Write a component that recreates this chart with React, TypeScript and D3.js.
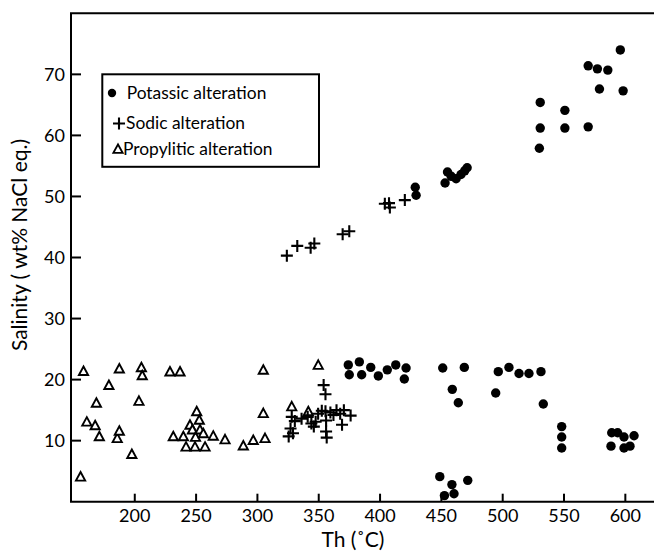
import React from "react";
import * as d3 from "d3";

const xTicks = [200, 250, 300, 350, 400, 450, 500, 550, 600];
const yTicks = [10, 20, 30, 40, 50, 60, 70];

const potassicTh = [
  428.7, 429.4, 453, 455, 458, 462, 466, 469, 471,
  530.6, 530.6, 529.9, 550.7, 550.7, 569.7, 569.7, 577.2, 585.7, 578.9, 595.9, 598.2,
  374.1, 374.9, 383.1, 385.0, 392.4, 398.6, 405.9, 412.8, 421.2, 419.8,
  451.1, 468.7, 458.9, 463.8,
  496.4, 505.1, 513.3, 521.4, 531.2, 494.3, 533.1,
  548.1, 548.1, 548.1,
  588.9, 593.7, 598.9, 607.1, 588.3, 598.9, 603.8,
  448.7, 458.6, 452.5, 460.3, 471.5,
];
const potassicSal = [
  51.5, 50.2, 52.2, 54.0, 53.3, 52.9, 53.6, 54.2, 54.7,
  65.4, 61.2, 57.9, 64.1, 61.2, 61.4, 71.4, 70.9, 70.7, 67.6, 74.0, 67.3,
  22.4, 20.8, 22.9, 20.8, 22.0, 20.6, 21.6, 22.4, 21.9, 20.1,
  21.9, 22.0, 18.4, 16.2,
  21.3, 22.0, 21.0, 21.0, 21.3, 17.8, 16.0,
  12.3, 10.6, 8.8,
  11.3, 11.3, 10.6, 10.8, 9.1, 8.8, 9.1,
  4.1, 2.8, 1.0, 1.3, 3.5,
];

const sodicTh = [
  324, 332.5, 343.4, 346.4, 369.5, 374.9, 403.9, 407.3, 408, 420.2,
  325.5, 327, 328, 329, 330.5, 336, 341, 344, 346, 347.5, 349.5, 352.5,
  354, 355.5, 355.5, 356, 356, 356.5, 359.5, 362, 364.5, 367.5, 369, 370.5, 376,
];
const sodicSal = [
  40.3, 41.9, 41.6, 42.3, 43.8, 44.3, 48.8, 48.9, 48.2, 49.4,
  10.7, 12.0, 13.9, 11.2, 13.2, 13.6, 13.9, 12.8, 12.3, 13.1, 14.4, 14.9,
  19.1, 17.6, 14.8, 13.3, 11.5, 10.5, 14.6, 14.2, 15.0, 14.4, 12.6, 15.0, 14.1,
];

const propyliticTh = [
  155.8, 158.2, 160.9, 167.7, 168.7, 171.1, 178.9, 185.7, 187.4, 187.4,
  197.6, 203.4, 205.4, 206.1, 228.7, 236.9, 231.4, 239.6, 241.8, 245,
  247, 249.1, 249.5, 250.5, 252.6, 253.2, 255.9, 257.3, 264, 273.6,
  288.5, 296.6, 304.8, 304.8, 306.2, 328, 341.5, 349.6,
];
const propyliticSal = [
  4.1, 21.4, 13.1, 12.5, 16.2, 10.7, 19.1, 10.4, 11.6, 21.8,
  7.8, 16.5, 22.0, 20.7, 21.3, 21.3, 10.7, 10.7, 9.0, 12.6,
  11.8, 9.0, 10.6, 14.8, 13.4, 11.8, 11.2, 9.0, 10.8, 10.2,
  9.2, 10.1, 21.6, 14.5, 10.4, 15.6, 14.8, 22.4,
];

const legendLabels = ["Potassic alteration", "Sodic alteration", "Propylitic alteration"];

const W = 654;
const H = 551;
const FONT = "Lato, 'Open Sans', sans-serif";

const x = d3.scaleLinear().domain([148, 625]).range([71, 656]);
const y = d3.scaleLinear().domain([0, 80]).range([501.7, 13.3]);

function Triangle({ cx, cy }: { cx: number; cy: number }) {
  const s = 4.6;
  const d = `M${cx},${cy - s}L${cx + s},${cy + s * 0.85}L${cx - s},${cy + s * 0.85}Z`;
  return <path d={d} fill="white" stroke="black" strokeWidth={1.9} strokeLinejoin="miter" />;
}

function Cross({ cx, cy }: { cx: number; cy: number }) {
  const s = 6;
  return (
    <path d={`M${cx - s},${cy}H${cx + s}M${cx},${cy - s}V${cy + s}`} stroke="black" strokeWidth={2.1} fill="none" />
  );
}

export default function App() {
  const x0 = x.range()[0];
  const y0 = y(0);
  const yTop = y(80);
  const xRight = x(625);
  return (
    <svg width={W} height={H} style={{ position: "absolute", left: 0, top: 0, background: "white" }} fontFamily={FONT}>
      <rect x={0} y={0} width={W} height={H} fill="white" />
      {/* frame */}
      <path d={`M${xRight},${yTop}H${x0}V${y0}H${xRight}`} fill="none" stroke="black" strokeWidth={2} />
      {/* y ticks */}
      {yTicks.map((t) => (
        <g key={"y" + t}>
          <line x1={x0} x2={x0 + 10} y1={y(t)} y2={y(t)} stroke="black" strokeWidth={2} />
          <text x={65} y={y(t)} dy="0.35em" textAnchor="end" fontSize={18}>
            {t}
          </text>
        </g>
      ))}
      {/* x ticks */}
      {xTicks.map((t) => (
        <g key={"x" + t}>
          <line x1={x(t)} x2={x(t)} y1={y0} y2={y0 - 8} stroke="black" strokeWidth={2} />
          <text x={x(t)} y={521.7} textAnchor="middle" fontSize={18}>
            {t}
          </text>
        </g>
      ))}
      <text x={353} y={547} textAnchor="middle" fontSize={21}>
        Th (˚C)
      </text>
      <text transform={`translate(27,245) rotate(-90)`} textAnchor="middle" fontSize={21}>
        Salinity ( wt% NaCl eq.)
      </text>
      {/* data */}
      {propyliticTh.map((v, i) => (
        <Triangle key={"p" + i} cx={x(v)} cy={y(propyliticSal[i])} />
      ))}
      {sodicTh.map((v, i) => (
        <Cross key={"s" + i} cx={x(v)} cy={y(sodicSal[i])} />
      ))}
      {potassicTh.map((v, i) => (
        <circle key={"k" + i} cx={x(v)} cy={y(potassicSal[i])} r={4.7} fill="black" />
      ))}
      {/* legend */}
      <rect x={102.3} y={74.3} width={216.7} height={92.5} fill="white" stroke="black" strokeWidth={2} />
      <circle cx={112} cy={93} r={4.2} fill="black" />
      <Cross cx={119} cy={123.5} />
      <Triangle cx={118} cy={149} />
      <text x={126.7} y={98.5} fontSize={17.4}>
        {legendLabels[0]}
      </text>
      <text x={126} y={128.5} fontSize={17.4}>
        {legendLabels[1]}
      </text>
      <text x={123} y={154.5} fontSize={17.4}>
        {legendLabels[2]}
      </text>
    </svg>
  );
}
